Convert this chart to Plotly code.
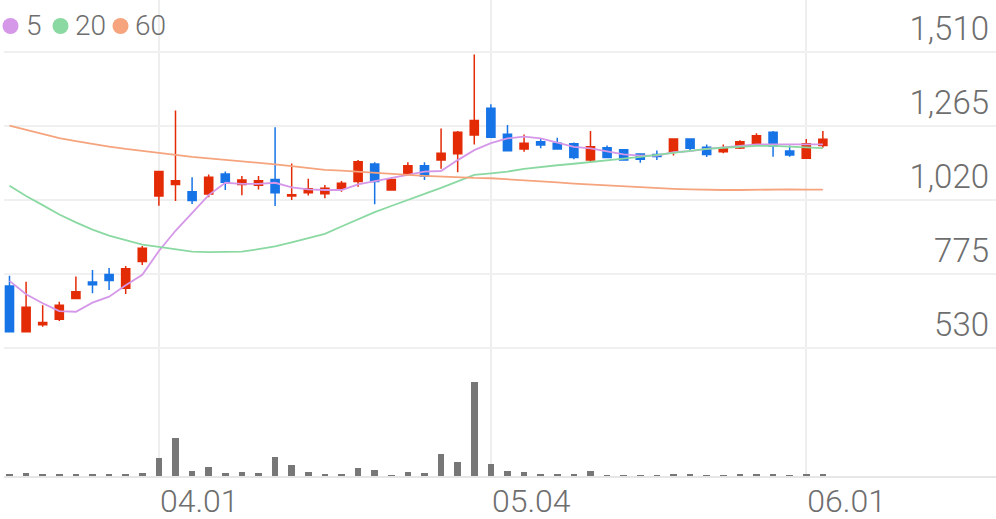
import plotly.graph_objects as go

# ---- data ----
idx = list(range(50))
tick_pos = [9, 29, 48]
tick_text = ["04.01", "05.04", "06.01"]

open_ = [734, 583, 606, 624, 693, 747, 772, 727, 815, 1032,
         1070, 1046, 1039, 1105, 1070, 1068, 1087, 1032, 1043, 1040,
         1058, 1080, 1138, 1052, 1107, 1132, 1151, 1172, 1234, 1323,
         1237, 1188, 1212, 1207, 1205, 1151, 1192, 1185, 1171, 1170,
         1179, 1221, 1194, 1179, 1191, 1205, 1243, 1181, 1157, 1199]
high = [768, 748, 670, 682, 766, 787, 794, 800, 867, 1113,
        1315, 1094, 1103, 1113, 1098, 1098, 1260, 1140, 1089, 1069,
        1082, 1151, 1144, 1090, 1144, 1144, 1256, 1247, 1501, 1336,
        1267, 1236, 1223, 1225, 1209, 1247, 1199, 1188, 1174, 1183,
        1223, 1223, 1203, 1203, 1217, 1240, 1247, 1199, 1221, 1247]
low = [583, 583, 599, 618, 691, 710, 721, 708, 804, 1000,
       1016, 1006, 1028, 1052, 1035, 1054, 999, 1019, 1034, 1025,
       1046, 1063, 1005, 1051, 1102, 1085, 1122, 1111, 1203, 1227,
       1181, 1179, 1190, 1188, 1154, 1142, 1157, 1150, 1142, 1151,
       1166, 1184, 1161, 1174, 1188, 1199, 1162, 1162, 1157, 1192]
close = [583, 664, 613, 670, 715, 738, 752, 791, 859, 1113,
         1083, 1017, 1094, 1078, 1085, 1083, 1043, 1036, 1056, 1058,
         1074, 1146, 1080, 1087, 1132, 1098, 1174, 1243, 1282, 1227,
         1182, 1207, 1201, 1188, 1160, 1195, 1160, 1151, 1154, 1163,
         1221, 1190, 1170, 1192, 1212, 1232, 1198, 1168, 1205, 1220]
volume = [34, 66, 26, 40, 40, 40, 26, 34, 54, 366,
          760, 106, 180, 54, 74, 66, 380, 214, 74, 34,
          46, 154, 114, 20, 86, 54, 440, 274, 1874, 246,
          94, 74, 26, 34, 34, 94, 20, 14, 14, 20,
          46, 26, 20, 20, 26, 46, 34, 20, 34, 26]
ma5 = [751, 707, 677, 651, 649, 679, 699, 737, 771, 850,
       917, 975, 1035, 1076, 1072, 1072, 1076, 1061, 1054, 1052,
       1052, 1071, 1082, 1093, 1104, 1113, 1115, 1151, 1184, 1207,
       1223, 1229, 1223, 1210, 1195, 1190, 1179, 1170, 1166, 1166,
       1177, 1181, 1188, 1192, 1198, 1203, 1203, 1201, 1203, 1203]
ma20 = [1066, 1032, 1002, 971, 945, 921, 901, 885, 871, 864,
        856, 848, 846, 846, 848, 856, 865, 879, 892, 907,
        931, 954, 979, 999, 1020, 1039, 1059, 1080, 1102, 1107,
        1113, 1122, 1129, 1134, 1139, 1144, 1149, 1156, 1162, 1169,
        1176, 1183, 1188, 1192, 1196, 1198, 1198, 1196, 1194, 1191]
ma60 = [1265, 1251, 1237, 1224, 1214, 1204, 1196, 1188, 1181, 1176,
        1168, 1162, 1157, 1152, 1149, 1144, 1137, 1131, 1124, 1119,
        1116, 1112, 1109, 1105, 1102, 1099, 1096, 1094, 1092, 1091,
        1088, 1084, 1081, 1077, 1073, 1070, 1066, 1064, 1061, 1058,
        1056, 1054, 1052, 1052, 1052, 1053, 1054, 1054, 1053, 1053]
price_ticks = [530, 775, 1020, 1265, 1510]
price_tick_text = ["530", "775", "1,020", "1,265", "1,510"]
ma_names = ["5", "20", "60"]

# ---- styles ----
RED = "#e32b06"
BLUE = "#1774e6"
MA_COLORS = ["#d597e8", "#8bd9a2", "#f5a47e"]
TEXT = "#6e6e6e"
FONT = "Roboto"

fig = go.Figure()

fig.add_trace(go.Candlestick(
    x=idx, open=open_, high=high, low=low, close=close,
    increasing=dict(line=dict(color=RED, width=1.5), fillcolor=RED),
    decreasing=dict(line=dict(color=BLUE, width=1.5), fillcolor=BLUE),
    whiskerwidth=0, showlegend=False, xaxis="x", yaxis="y", hoverinfo="skip"))

for name, series, col in zip(ma_names, [ma5, ma20, ma60], MA_COLORS):
    fig.add_trace(go.Scatter(x=idx, y=series, mode="lines", name=name,
                             line=dict(color=col, width=1.8),
                             showlegend=False, xaxis="x", yaxis="y", hoverinfo="skip"))

fig.add_trace(go.Bar(x=idx, y=volume, width=0.4, marker=dict(color="#777777", line=dict(width=0)),
                     showlegend=False, xaxis="x", yaxis="y2", hoverinfo="skip"))

# legend drawn as circles + text at top-left (pixel offsets from paper origin)
legend_circle_px = [10.5, 60.5, 120.5]
legend_text_px = [24, 73, 133]
L = 4
for name, col, cx, tx in zip(ma_names, MA_COLORS, legend_circle_px, legend_text_px):
    fig.add_shape(type="circle", xref="paper", yref="paper",
                  xsizemode="pixel", ysizemode="pixel", xanchor=0, yanchor=1,
                  x0=cx - L - 8, x1=cx - L + 8, y0=-26 - 8, y1=-26 + 8,
                  fillcolor=col, line=dict(width=0))
    fig.add_annotation(text=name, xref="paper", yref="paper", x=0, y=1,
                       xanchor="left", yanchor="middle", xshift=tx - L, yshift=-25,
                       showarrow=False,
                       font=dict(size=28, color=TEXT, family=FONT, weight=300))

fig.update_layout(
    width=996, height=519,
    margin=dict(l=L, r=0, t=0, b=43, autoexpand=False),
    paper_bgcolor="white", plot_bgcolor="white",
    font=dict(family=FONT, color=TEXT, size=28, weight=300),
    showlegend=False,
    xaxis=dict(range=[-0.331, 59.43], anchor="y2", automargin=False,
               tickmode="array", tickvals=tick_pos, ticktext=tick_text,
               showgrid=True, gridcolor="#eeeeee", gridwidth=1.5,
               zeroline=False, showline=True, linecolor="#e6e6e6", linewidth=2,
               ticks="", ticklabelposition="outside right", ticklabelstandoff=-4,
               tickfont=dict(size=32, color=TEXT, family=FONT, weight=300),
               rangeslider=dict(visible=False)),
    yaxis=dict(domain=[0.2605, 1], range=[515.6, 1681.2], side="right", automargin=False,
               tickmode="array", tickvals=price_ticks, ticktext=price_tick_text,
               ticklabelposition="inside top", ticklabelstandoff=4,
               showgrid=True, gridcolor="#f0f0f0", gridwidth=2,
               zeroline=False, showline=False, ticks="",
               tickfont=dict(size=33, color=TEXT, family=FONT, weight=300)),
    yaxis2=dict(domain=[0, 0.2605], range=[0, 2480], showticklabels=False, automargin=False,
                showgrid=False, zeroline=False, showline=False),
    bargap=0,
)

fig.write_html("out.html", config={"displayModeBar": False},
               post_script="document.body.style.margin='0';")
